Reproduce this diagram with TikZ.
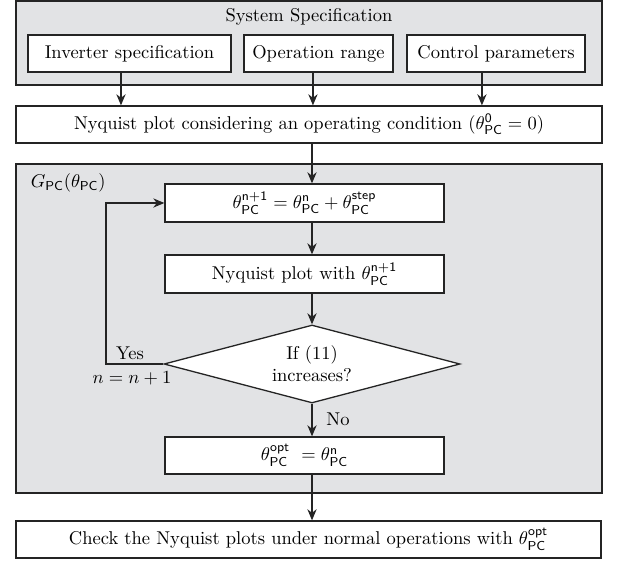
\documentclass[tikz,border=0pt]{standalone}
\usetikzlibrary{shapes.geometric,arrows.meta}
\definecolor{panel}{rgb}{.886,.89,.9}
\definecolor{edge}{rgb}{.14,.14,.14}
\newcommand{\thpc}[1]{\theta^{\mathsf{#1}}_{\mathsf{PC}}}

\begin{document}
\begin{tikzpicture}[x=0.54pt, y=-0.54pt, line width=0.7pt,
	blk/.style={draw=edge, fill=white, inner sep=0pt, minimum height=37*0.54pt, minimum width=#1*0.54pt},
	area/.style={draw=edge, fill=panel},
	dec/.style={draw=edge, fill=white, diamond, aspect=3.8, inner sep=0pt, align=center, minimum width=296*0.54pt, minimum height=78*0.54pt},
	arr/.style={draw=edge, -{Stealth[length=6pt, width=5pt]}}]

	\useasboundingbox (0,0) rectangle (618,561);

	% panels
	\draw[area] (16,1) rectangle (602,85);
	\draw[area] (16,164) rectangle (602,493);

	\coordinate (axis) at (312,0);
	\coordinate (back) at (106,0);

	\node (spec) at (309,17) {System Specification};
	\node[blk=203] (inv) at (129.5,53.5) {Inverter specification};
	\node[blk=149] (oper) at (318.5,53.5) {Operation range};
	\node[blk=178] (ctrl) at (496,53.5) {Control parameters};

	\node[blk=586] (nyq1) at (309,124.5) {Nyquist plot considering an operating condition ($\thpc{0} = 0$)};

	\node[anchor=west] (gpc) at (24,183) {$G_{\mathsf{PC}}(\theta_{\mathsf{PC}})$};
	\node[blk=279, minimum height=38*0.54pt] (upd) at (304.5,203) {$\thpc{n+1} = \thpc{n} + \thpc{step}$};
	\node[blk=279, minimum height=38*0.54pt] (nyq2) at (304.5,274) {Nyquist plot with $\thpc{n+1}$};
	\node[dec] (cond) at (312,364) {If (11)\\increases?};
	\node[blk=279] (opt) at (304.5,455.5) {$\thpc{opt}\ = \thpc{n}$};

	\node[blk=585] (chk) at (308.5,539.5) {Check the Nyquist plots under normal operations with $\thpc{opt}$};

	\node (yes) at (130,353) {Yes};
	\node (cnt) at (132,378) {$n = n+1$};
	\node (no) at (338,419) {No};

	\draw[arr] ([xshift=-4.6pt]inv.south) -- ([xshift=-4.6pt]inv.south |- nyq1.north);
	\draw[arr] ([xshift=-3pt]oper.south) -- ([xshift=-3pt]oper.south |- nyq1.north);
	\draw[arr] ([xshift=-7.6pt]ctrl.south) -- ([xshift=-7.6pt]ctrl.south |- nyq1.north);

	\draw[arr] (nyq1.south -| axis) -- (upd.north -| axis);
	\draw[arr] (upd.south -| axis) -- (nyq2.north -| axis);
	\draw[arr] (nyq2.south -| axis) -- (cond.north);
	\draw[arr] (cond.south) -- (opt.north -| axis);
	\draw[arr] (opt.south -| axis) -- (chk.north -| axis);
	\draw[arr] (cond.west) -- (cond.west -| back) |- (upd.west);

\end{tikzpicture}
\end{document}
